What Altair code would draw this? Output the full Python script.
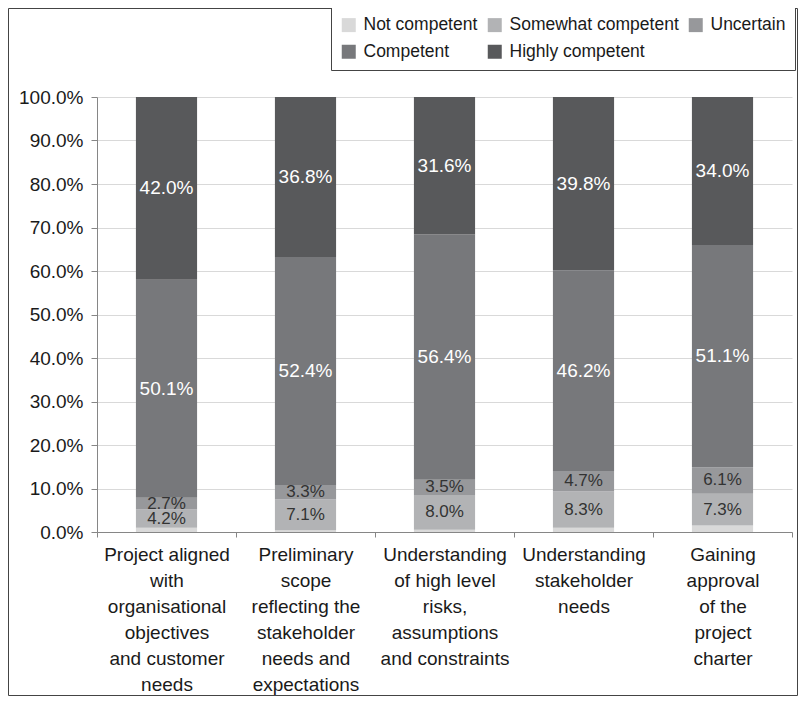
import altair as alt
import pandas as pd

FONT = "Liberation Sans"

categories = [
    "Project aligned\nwith\norganisational\nobjectives\nand customer\nneeds",
    "Preliminary\nscope\nreflecting the\nstakeholder\nneeds and\nexpectations",
    "Understanding\nof high level\nrisks,\nassumptions\nand constraints",
    "Understanding\nstakeholder\nneeds",
    "Gaining\napproval\nof the\nproject\ncharter",
]
levels = ["Not competent", "Somewhat competent", "Uncertain", "Competent", "Highly competent"]
level_colors = ["#d9d9d9", "#b2b3b5", "#97989b", "#77787b", "#58595b"]

not_competent = [1.0, 0.4, 0.5, 1.0, 1.5]
somewhat_competent = [4.2, 7.1, 8.0, 8.3, 7.3]
uncertain = [2.7, 3.3, 3.5, 4.7, 6.1]
competent = [50.1, 52.4, 56.4, 46.2, 51.1]
highly_competent = [42.0, 36.8, 31.6, 39.8, 34.0]

series = [not_competent, somewhat_competent, uncertain, competent, highly_competent]

rows = []
for ci, cat in enumerate(categories):
    for li, lvl in enumerate(levels):
        rows.append({"category": cat, "level": lvl, "idx": li, "value": series[li][ci]})
df = pd.DataFrame(rows)

base = (
    alt.Chart(df)
    .transform_stack(
        stack="value",
        groupby=["category"],
        sort=[alt.SortField("idx", order="ascending")],
        as_=["v0", "v1"],
    )
    .transform_calculate(
        mid="(datum.v0 + datum.v1) / 2",
        label="format(datum.value, '.1f') + '%'",
    )
)

x_enc = alt.X(
    "category:N",
    sort=categories,
    title=None,
    scale=alt.Scale(paddingInner=0, paddingOuter=0),
    axis=alt.Axis(
        labelExpr="split(datum.label, '\\n')",
        labelAngle=0,
        labelFont=FONT,
        labelFontSize=19,
        labelColor="#1a1a1a",
        labelLineHeight=26,
        labelPadding=8,
        labelOverlap=False,
        labelLimit=250,
        tickSize=5,
        tickColor="#868686",
        domainColor="#868686",
        tickBand="extent",
        grid=False,
    ),
)

y_enc = alt.Y(
    "v0:Q",
    title=None,
    scale=alt.Scale(domain=[0, 100], nice=False),
    axis=alt.Axis(
        values=list(range(0, 101, 10)),
        labelExpr="format(datum.value, '.1f') + '%'",
        labelFont=FONT,
        labelFontSize=19,
        labelColor="#1a1a1a",
        labelPadding=8,
        tickSize=6,
        tickColor="#868686",
        domainColor="#868686",
        grid=True,
        gridColor="#d9d9d9",
        gridWidth=1,
    ),
)

bars = base.mark_bar(width=alt.RelativeBandSize(0.44)).encode(
    x=x_enc,
    y=y_enc,
    y2="v1:Q",
    color=alt.Color(
        "level:N",
        sort=levels,
        scale=alt.Scale(domain=levels, range=level_colors),
        legend=alt.Legend(
            title=None,
            orient="none",
            legendX=234,
            legendY=-90,
            direction="horizontal",
            columns=3,
            symbolType="square",
            symbolSize=196,
            symbolStrokeWidth=0,
            symbolOpacity=1,
            labelFont=FONT,
            labelFontSize=17.5,
            labelColor="#1a1a1a",
            labelOffset=6,
            labelLimit=300,
            columnPadding=8,
            rowPadding=8,
            padding=9,
            strokeColor="#444444",
            fillColor="#ffffff",
        ),
    ),
)

text_light = (
    base.transform_filter("datum.idx >= 3")
    .mark_text(font=FONT, fontSize=19, color="#ffffff")
    .encode(x=alt.X("category:N", sort=categories), y=alt.Y("mid:Q"), text="label:N")
)
text_dark = (
    base.transform_filter("datum.idx >= 1 && datum.idx <= 2")
    .mark_text(font=FONT, fontSize=17, color="#333333")
    .encode(x=alt.X("category:N", sort=categories), y=alt.Y("mid:Q"), text="label:N")
)

frame = (
    alt.Chart(pd.DataFrame({"d": [0]}))
    .mark_rect(fillOpacity=0, stroke="#444444", strokeWidth=1)
    .encode(
        x=alt.value(-88.5),
        x2=alt.value(700.5),
        y=alt.value(-88.5),
        y2=alt.value(598.5),
    )
)

chart = (
    alt.layer(frame, bars, text_light, text_dark)
    .properties(
        width=695,
        height=435,
        padding={"left": 89, "top": 89, "right": 6, "bottom": 164},
        autosize=alt.AutoSizeParams(type="none"),
        background="#ffffff",
    )
    .configure_view(strokeWidth=0)
)

chart.save("out.html", embed_options={"renderer": "svg", "actions": False})
